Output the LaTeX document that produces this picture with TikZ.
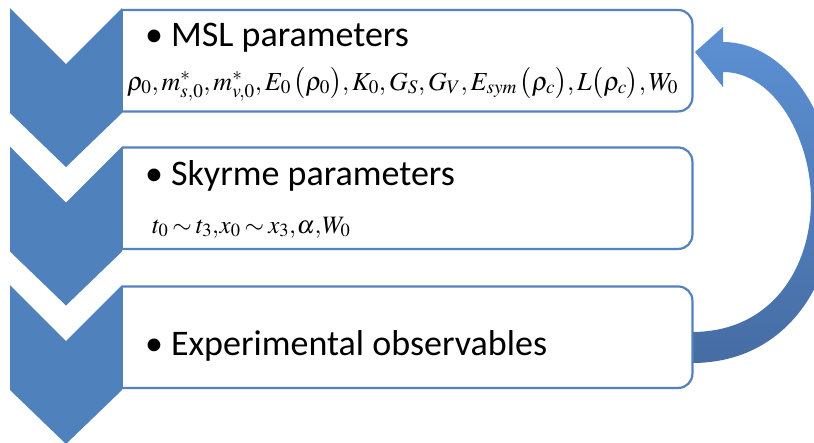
\documentclass[tikz,border=0pt]{standalone}
\usepackage{mathptmx}
\usepackage{fontspec}
\setmainfont{Carlito}
\definecolor{chev}{RGB}{79,129,189}
\definecolor{boxline}{RGB}{84,130,190}
\definecolor{arrtop}{RGB}{92,145,212}
\definecolor{arrbot}{RGB}{70,108,163}
\tikzset{
  chevron/.style={fill=chev, draw=none},
  boxborder/.style={draw=boxline, line width=2.2pt, rounded corners=14pt},
  boxedge/.style={draw=boxline, line width=2.2pt},
  heading/.style={anchor=base west, inner sep=0pt, font=\fontsize{36}{40}\selectfont},
  formula/.style={anchor=base west, inner sep=0pt, font=\fontsize{26}{30}\selectfont},
  boxarea/.style={draw=none, inner sep=0pt, minimum width=570pt, minimum height=101pt, anchor=north west},
  loopfill/.style={top color=arrtop, bottom color=arrbot, draw=none},
}
\begin{document}
\begin{tikzpicture}[x=1pt,y=-1pt]
\useasboundingbox (0,0) rectangle (814,442);
\fill[white] (0,0) rectangle (814,442);
% box areas
\node[boxarea] (b1) at (122,10) {};
\node[boxarea] (b2) at (122,147.5) {};
\node[boxarea] (b3) at (122,286.5) {};
% feedback arrow from box 3 to box 1
\coordinate (aS) at (b3.east);
\coordinate (aT) at (b1.east);
\begin{scope}
\clip (0,0) rectangle (814,442);
\shade[loopfill] (692,363) .. controls (785,363) and (835,285) .. (835,200)
  .. controls (835,115) and (785,42) .. (723,42) -- (723,27) -- (695,52)
  -- (723,87) -- (723,72) .. controls (775,72) and (811,140) .. (811,200)
  .. controls (811,270) and (770,332) .. (692,332) -- cycle;
\end{scope}
% box borders
\foreach \b in {b1,b2,b3}{
  \draw[boxborder] (\b.north west) -- (\b.north east) -- (\b.south east) -- (\b.south west);
  \draw[boxedge] (\b.north west) -- (\b.south west);
}
% chevrons
\foreach \t in {8,146.5,285}{
  \fill[chevron] (10,\t) -- (66,\t+56) -- (122,\t) -- (122,\t+105) -- (66,\t+159) -- (10,\t+105) -- cycle;
}
% texts
\node[heading] (h1) at (145,46) {•\hspace{0.22em}MSL parameters};
\node[formula] (f1) at (127,90) {$\thinmuskip=2mu \rho_0, m^*_{s,0}, m^*_{v,0}, E_0\,\bigl(\rho_0\bigr), K_0, G_S, G_V, E_{sym}\,\bigl(\rho_c\bigr), L\bigl(\rho_c\bigr), W_0$};
\node[heading] (h2) at (145,185) {•\hspace{0.22em}Skyrme parameters};
\node[formula, font=\fontsize{25}{29}\selectfont] (f2) at (152,233) {$\thickmuskip=3mu \thinmuskip=0.5mu t_0 \sim t_3, x_0 \sim x_3, \alpha, W_0$};
\node[heading] (h3) at (145,355) {•\hspace{0.22em}Experimental observables};
\end{tikzpicture}
\end{document}
